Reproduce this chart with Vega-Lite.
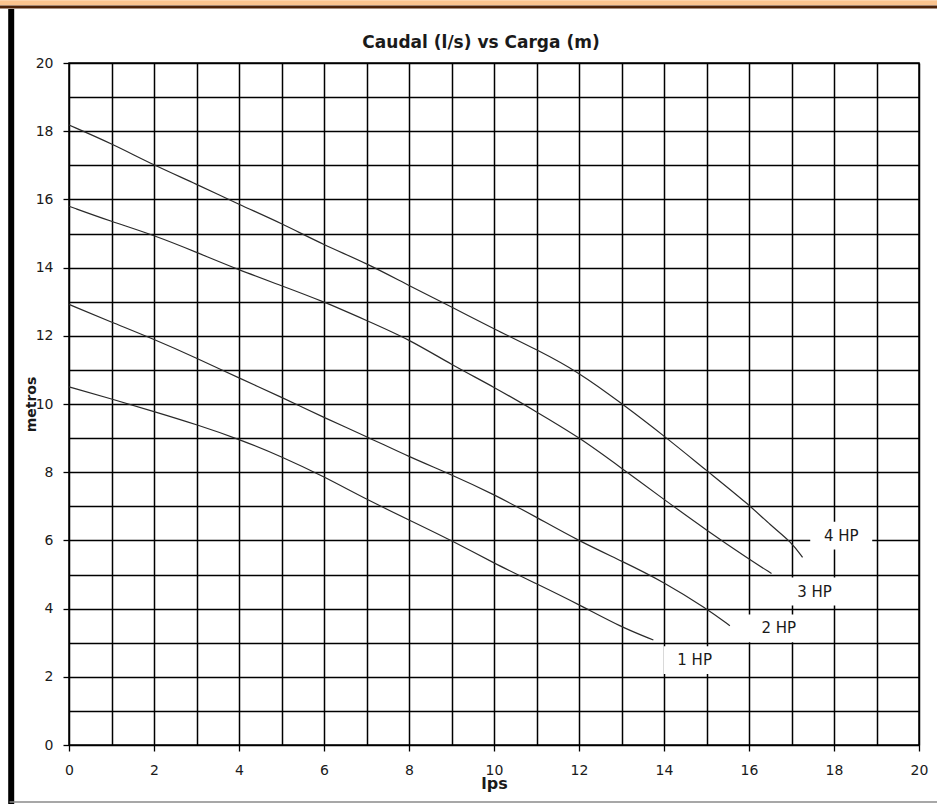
{
  "$schema": "https://vega.github.io/schema/vega-lite/v6.json",
  "width": 850,
  "height": 682,
  "autosize": {"type": "none"},
  "padding": {"left": 69, "top": 63, "right": 18, "bottom": 59},
  "background": "white",
  "config": {"view": {"stroke": "#000", "strokeWidth": 1.5}, "font": "DejaVu Sans"},
  "title": {"text": "Caudal (l/s) vs Carga (m)", "font": "DejaVu Sans", "fontSize": 17, "fontWeight": "bold", "color": "#1a1a1a", "anchor": "middle", "offset": -65, "baseline": "alphabetic", "dx": -13},
  "datasets": {
    "curves": [
      {"hp": "4 HP", "q": 0, "h": 18.18}, {"hp": "4 HP", "q": 1, "h": 17.64}, {"hp": "4 HP", "q": 2, "h": 17.0}, {"hp": "4 HP", "q": 3, "h": 16.45}, {"hp": "4 HP", "q": 4, "h": 15.85}, {"hp": "4 HP", "q": 5, "h": 15.3}, {"hp": "4 HP", "q": 6, "h": 14.66}, {"hp": "4 HP", "q": 7, "h": 14.13}, {"hp": "4 HP", "q": 8, "h": 13.47}, {"hp": "4 HP", "q": 9, "h": 12.85}, {"hp": "4 HP", "q": 10, "h": 12.2}, {"hp": "4 HP", "q": 11, "h": 11.6}, {"hp": "4 HP", "q": 12, "h": 10.93}, {"hp": "4 HP", "q": 13, "h": 10.02}, {"hp": "4 HP", "q": 14, "h": 9.07}, {"hp": "4 HP", "q": 15, "h": 8.05}, {"hp": "4 HP", "q": 16, "h": 7.05}, {"hp": "4 HP", "q": 16.5, "h": 6.45}, {"hp": "4 HP", "q": 17, "h": 5.95}, {"hp": "4 HP", "q": 17.26, "h": 5.5},
      {"hp": "3 HP", "q": 0, "h": 15.8}, {"hp": "3 HP", "q": 1, "h": 15.35}, {"hp": "3 HP", "q": 2, "h": 14.95}, {"hp": "3 HP", "q": 3, "h": 14.45}, {"hp": "3 HP", "q": 4, "h": 13.93}, {"hp": "3 HP", "q": 5, "h": 13.47}, {"hp": "3 HP", "q": 6, "h": 13.0}, {"hp": "3 HP", "q": 7, "h": 12.45}, {"hp": "3 HP", "q": 8, "h": 11.9}, {"hp": "3 HP", "q": 9, "h": 11.15}, {"hp": "3 HP", "q": 10, "h": 10.5}, {"hp": "3 HP", "q": 11, "h": 9.77}, {"hp": "3 HP", "q": 12, "h": 9.03}, {"hp": "3 HP", "q": 13, "h": 8.12}, {"hp": "3 HP", "q": 14, "h": 7.2}, {"hp": "3 HP", "q": 15, "h": 6.3}, {"hp": "3 HP", "q": 16, "h": 5.45}, {"hp": "3 HP", "q": 16.53, "h": 5.03},
      {"hp": "2 HP", "q": 0, "h": 12.92}, {"hp": "2 HP", "q": 1, "h": 12.4}, {"hp": "2 HP", "q": 2, "h": 11.9}, {"hp": "2 HP", "q": 3, "h": 11.35}, {"hp": "2 HP", "q": 4, "h": 10.76}, {"hp": "2 HP", "q": 5, "h": 10.2}, {"hp": "2 HP", "q": 6, "h": 9.6}, {"hp": "2 HP", "q": 7, "h": 9.05}, {"hp": "2 HP", "q": 8, "h": 8.45}, {"hp": "2 HP", "q": 9, "h": 7.93}, {"hp": "2 HP", "q": 10, "h": 7.35}, {"hp": "2 HP", "q": 11, "h": 6.68}, {"hp": "2 HP", "q": 12, "h": 5.98}, {"hp": "2 HP", "q": 13, "h": 5.4}, {"hp": "2 HP", "q": 14, "h": 4.78}, {"hp": "2 HP", "q": 15, "h": 4.0}, {"hp": "2 HP", "q": 15.55, "h": 3.5},
      {"hp": "1 HP", "q": 0, "h": 10.5}, {"hp": "1 HP", "q": 1, "h": 10.15}, {"hp": "1 HP", "q": 2, "h": 9.78}, {"hp": "1 HP", "q": 3, "h": 9.4}, {"hp": "1 HP", "q": 4, "h": 8.97}, {"hp": "1 HP", "q": 5, "h": 8.46}, {"hp": "1 HP", "q": 6, "h": 7.87}, {"hp": "1 HP", "q": 7, "h": 7.2}, {"hp": "1 HP", "q": 8, "h": 6.6}, {"hp": "1 HP", "q": 9, "h": 6.0}, {"hp": "1 HP", "q": 10, "h": 5.33}, {"hp": "1 HP", "q": 11, "h": 4.73}, {"hp": "1 HP", "q": 12, "h": 4.12}, {"hp": "1 HP", "q": 13, "h": 3.45}, {"hp": "1 HP", "q": 13.75, "h": 3.08}
    ],
    "labels": [
      {"label": "4 HP", "q": 18.17, "h": 6.14},
      {"label": "3 HP", "q": 17.54, "h": 4.5},
      {"label": "2 HP", "q": 16.7, "h": 3.42},
      {"label": "1 HP", "q": 14.72, "h": 2.49}
    ],
    "one": [{}]
  },
  "layer": [
    {
      "data": {"name": "curves"},
      "mark": {"type": "line", "opacity": 0},
      "encoding": {
        "x": {"field": "q", "type": "quantitative", "scale": {"domain": [0, 20], "nice": false},
          "axis": {"orient": "bottom", "values": [0,1,2,3,4,5,6,7,8,9,10,11,12,13,14,15,16,17,18,19,20], "grid": true, "gridColor": "#000", "gridWidth": 1.5, "gridOpacity": 1, "labels": false, "ticks": false, "domain": false, "title": null}},
        "y": {"field": "h", "type": "quantitative", "scale": {"domain": [0, 20], "nice": false},
          "axis": {"orient": "left", "values": [0,1,2,3,4,5,6,7,8,9,10,11,12,13,14,15,16,17,18,19,20], "grid": true, "gridColor": "#000", "gridWidth": 1.5, "gridOpacity": 1, "labels": false, "ticks": false, "domain": false, "title": null}},
        "detail": {"field": "hp"}
      }
    },
    {
      "data": {"name": "curves"},
      "mark": {"type": "line", "interpolate": "basis", "color": "#2a2a2a", "strokeWidth": 1.2},
      "encoding": {
        "x": {"field": "q", "type": "quantitative", "scale": {"domain": [0, 20], "nice": false},
          "axis": {"orient": "bottom", "values": [0,2,4,6,8,10,12,14,16,18,20], "grid": false, "domain": false, "ticks": true, "tickSize": 6, "tickColor": "#000", "tickWidth": 1.3, "labelFont": "DejaVu Sans", "labelFontSize": 14, "labelColor": "#1a1a1a", "labelPadding": 12, "labelFlush": false, "title": "lps", "titleFont": "DejaVu Sans", "titleFontSize": 16, "titleFontWeight": "bold", "titleColor": "#1a1a1a", "titlePadding": -2}},
        "y": {"field": "h", "type": "quantitative", "scale": {"domain": [0, 20], "nice": false},
          "axis": {"orient": "left", "values": [0,2,4,6,8,10,12,14,16,18,20], "grid": false, "domain": false, "ticks": true, "tickSize": 6, "tickColor": "#000", "tickWidth": 1.3, "labelFont": "DejaVu Sans", "labelFontSize": 14, "labelColor": "#1a1a1a", "labelPadding": 10, "labelFlush": false, "title": "metros", "titleFont": "DejaVu Sans", "titleFontSize": 14, "titleFontWeight": "bold", "titleColor": "#1a1a1a", "titlePadding": -3}},
        "detail": {"field": "hp"}
      }
    },
    {
      "data": {"name": "labels"},
      "mark": {"type": "point", "shape": "M-1,-0.45H1V0.45H-1Z", "size": 3844, "filled": true, "color": "white", "opacity": 1, "strokeWidth": 0},
      "encoding": {
        "x": {"field": "q", "type": "quantitative", "axis": null},
        "y": {"field": "h", "type": "quantitative", "axis": null}
      }
    },
    {
      "data": {"name": "labels"},
      "mark": {"type": "text", "font": "DejaVu Sans", "fontSize": 15, "color": "#1a1a1a", "align": "center", "baseline": "middle"},
      "encoding": {
        "x": {"field": "q", "type": "quantitative", "axis": null},
        "y": {"field": "h", "type": "quantitative", "axis": null},
        "text": {"field": "label"}
      }
    },
    {
      "data": {"name": "one"},
      "mark": {"type": "rule", "color": "#fbc48f", "strokeWidth": 5},
      "encoding": {
        "x": {"datum": -1.7, "type": "quantitative", "axis": null},
        "x2": {"datum": 20.6},
        "y": {"datum": 21.77, "type": "quantitative", "axis": null}
      }
    },
    {
      "data": {"name": "one"},
      "mark": {"type": "rule", "color": "#4e2308", "strokeWidth": 3},
      "encoding": {
        "x": {"datum": -1.7, "type": "quantitative", "axis": null},
        "x2": {"datum": 20.6},
        "y": {"datum": 21.64, "type": "quantitative", "axis": null}
      }
    },
    {
      "data": {"name": "one"},
      "mark": {"type": "rule", "color": "#000", "strokeWidth": 6},
      "encoding": {
        "x": {"datum": -1.36, "type": "quantitative", "axis": null},
        "y": {"datum": 21.58, "type": "quantitative", "axis": null},
        "y2": {"datum": -1.8}
      }
    },
    {
      "data": {"name": "one"},
      "mark": {"type": "rule", "color": "#8a8a8a", "strokeWidth": 1.5},
      "encoding": {
        "x": {"datum": -1.4, "type": "quantitative", "axis": null},
        "x2": {"datum": 20.6},
        "y": {"datum": -1.67, "type": "quantitative", "axis": null}
      }
    }
  ],
  "resolve": {"axis": {"x": "independent", "y": "independent"}}
}
